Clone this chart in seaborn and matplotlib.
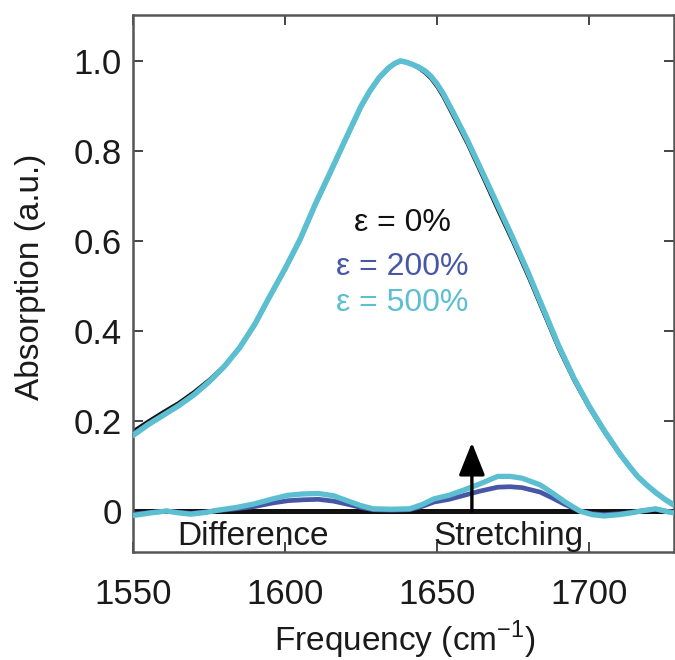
import numpy as np
import pandas as pd
import matplotlib
matplotlib.use("Agg")
import matplotlib.pyplot as plt
import seaborn as sns

# ---- spectra (normalised absorption, amide I band) ----
freq = [1550, 1555, 1560, 1565, 1570, 1575, 1580, 1585, 1590, 1595,
        1600, 1605, 1610, 1615, 1620, 1625, 1628, 1631, 1634, 1636,
        1638, 1640, 1642, 1644, 1646, 1648, 1650, 1652, 1655, 1660,
        1665, 1670, 1675, 1680, 1685, 1690, 1695, 1700, 1705, 1710,
        1713, 1716, 1719, 1722, 1725, 1728]

absorb_0 = [0.178, 0.200, 0.221, 0.241, 0.265, 0.292, 0.323, 0.362, 0.412, 0.474,
            0.535, 0.600, 0.678, 0.750, 0.824, 0.896, 0.932, 0.961, 0.982, 0.993,
            1.000, 0.997, 0.991, 0.983, 0.973, 0.960, 0.942, 0.920, 0.881, 0.815,
            0.742, 0.668, 0.596, 0.520, 0.440, 0.360, 0.290, 0.229, 0.175, 0.126,
            0.100, 0.076, 0.057, 0.040, 0.026, 0.014]

absorb_200 = [0.171, 0.194, 0.214, 0.234, 0.258, 0.287, 0.321, 0.362, 0.414, 0.477,
              0.538, 0.603, 0.681, 0.753, 0.826, 0.898, 0.933, 0.962, 0.983, 0.994,
              1.000, 0.997, 0.992, 0.985, 0.977, 0.965, 0.948, 0.927, 0.889, 0.823,
              0.751, 0.678, 0.605, 0.529, 0.448, 0.367, 0.295, 0.233, 0.178, 0.128,
              0.102, 0.077, 0.058, 0.041, 0.026, 0.014]

absorb_500 = [0.168, 0.192, 0.213, 0.234, 0.258, 0.287, 0.321, 0.362, 0.414, 0.477,
              0.538, 0.604, 0.682, 0.754, 0.827, 0.899, 0.934, 0.963, 0.984, 0.994,
              1.000, 0.997, 0.992, 0.986, 0.978, 0.966, 0.949, 0.928, 0.890, 0.824,
              0.752, 0.679, 0.606, 0.530, 0.449, 0.368, 0.296, 0.234, 0.179, 0.129,
              0.102, 0.077, 0.058, 0.041, 0.026, 0.013]

# ---- difference spectra (strained minus unstrained) ----
diff_freq = [1550, 1556, 1561, 1565, 1569, 1574, 1578, 1584, 1590, 1596,
             1601, 1606, 1611, 1616, 1620, 1625, 1629, 1635, 1641, 1645,
             1649, 1654, 1659, 1664, 1670, 1674, 1678, 1684, 1688, 1692,
             1697, 1701, 1705, 1710, 1714, 1718, 1722, 1726, 1728]

diff_0 = [0.0] * len(diff_freq)

diff_200 = [-0.007, -0.003, 0.000, -0.003, -0.005, -0.002, 0.001, 0.005, 0.010, 0.018,
            0.023, 0.025, 0.026, 0.022, 0.016, 0.008, 0.003, 0.002, 0.003, 0.010,
            0.020, 0.026, 0.035, 0.044, 0.053, 0.054, 0.052, 0.042, 0.029, 0.015,
            0.000, -0.006, -0.008, -0.006, -0.003, 0.001, 0.004, -0.001, -0.003]

diff_500 = [-0.010, -0.004, 0.000, -0.004, -0.007, -0.003, 0.002, 0.008, 0.016, 0.027,
            0.035, 0.038, 0.039, 0.034, 0.024, 0.012, 0.005, 0.004, 0.005, 0.014,
            0.027, 0.035, 0.047, 0.060, 0.077, 0.077, 0.073, 0.058, 0.040, 0.021,
            0.000, -0.008, -0.011, -0.008, -0.004, 0.001, 0.005, -0.002, -0.004]

strain_labels = ["\u03b5 = 0%", "\u03b5 = 200%", "\u03b5 = 500%"]
colors = ["#111111", "#4757a6", "#5bbfd1"]

x_ticks = [1550, 1600, 1650, 1700]
y_ticks = [0, 0.2, 0.4, 0.6, 0.8, 1.0]
y_tick_labels = ["0", "0.2", "0.4", "0.6", "0.8", "1.0"]

arrow_x = 1661.5
arrow_top = 0.152

sns.set_style("ticks")
plt.rcParams["font.family"] = ["Liberation Sans", "DejaVu Sans"]
plt.rcParams["mathtext.fontset"] = "custom"
plt.rcParams["mathtext.rm"] = "Liberation Sans"

fig = plt.figure(figsize=(6.75, 6.6), dpi=100)
ax = fig.add_axes([133 / 675, 108 / 660, 541 / 675, 537 / 660])

spec = pd.DataFrame({"freq": freq, "e0": absorb_0, "e200": absorb_200, "e500": absorb_500})
diff = pd.DataFrame({"freq": diff_freq, "e0": diff_0, "e200": diff_200, "e500": diff_500})

# difference spectra first (baseline underneath)
sns.lineplot(data=diff, x="freq", y="e0", color=colors[0], lw=3.6, ax=ax, zorder=2)
sns.lineplot(data=diff, x="freq", y="e200", color=colors[1], lw=3.4, ax=ax, zorder=3)
sns.lineplot(data=diff, x="freq", y="e500", color=colors[2], lw=3.8, ax=ax, zorder=4)

# full absorption spectra
sns.lineplot(data=spec, x="freq", y="e0", color=colors[0], lw=2.2, ax=ax, zorder=2)
sns.lineplot(data=spec, x="freq", y="e200", color=colors[1], lw=3.0, ax=ax, zorder=3)
sns.lineplot(data=spec, x="freq", y="e500", color=colors[2], lw=4.0, ax=ax, zorder=4)

ax.annotate("", xy=(arrow_x, arrow_top), xytext=(arrow_x, 0.0),
            arrowprops=dict(arrowstyle="-|>,head_length=1.0,head_width=0.4",
                            mutation_scale=20, lw=2.4, color="black",
                            shrinkA=0, shrinkB=0), zorder=6)

for lab, col, yy in zip(strain_labels, colors, [0.640, 0.542, 0.462]):
    ax.text(1638.5, yy, lab, color=col, fontsize=23, ha="center", va="center")

ax.text(1589.5, -0.057, "Difference", fontsize=24, ha="center", va="center", color="#1a1a1a")
ax.text(1673.5, -0.057, "Stretching", fontsize=24, ha="center", va="center", color="#1a1a1a")

ax.set_xlim(1550, 1728)
ax.set_ylim(-0.091, 1.102)
ax.set_xticks(x_ticks)
ax.set_xticklabels([str(t) for t in x_ticks])
ax.set_yticks(y_ticks)
ax.set_yticklabels(y_tick_labels)

ax.tick_params(axis="both", direction="in", length=7, width=1.4, color="#444444",
               labelsize=25, labelcolor="#1a1a1a", top=True, right=True)
ax.tick_params(axis="x", pad=19)
ax.tick_params(axis="y", pad=8)

for side in ["left", "right", "top", "bottom"]:
    ax.spines[side].set_visible(True)
    ax.spines[side].set_color("#555555")
    ax.spines[side].set_linewidth(1.8)

ax.set_xlabel("Frequency (cm$^{\\mathregular{-1}}$)", fontsize=24, color="#1a1a1a", va="center")
ax.set_ylabel("Absorption (a.u.)", fontsize=24, color="#1a1a1a", va="center")
ax.xaxis.set_label_coords(0.503, -0.163)
ax.yaxis.set_label_coords(-0.19, 0.512)

fig.savefig("out.png", dpi=100)
